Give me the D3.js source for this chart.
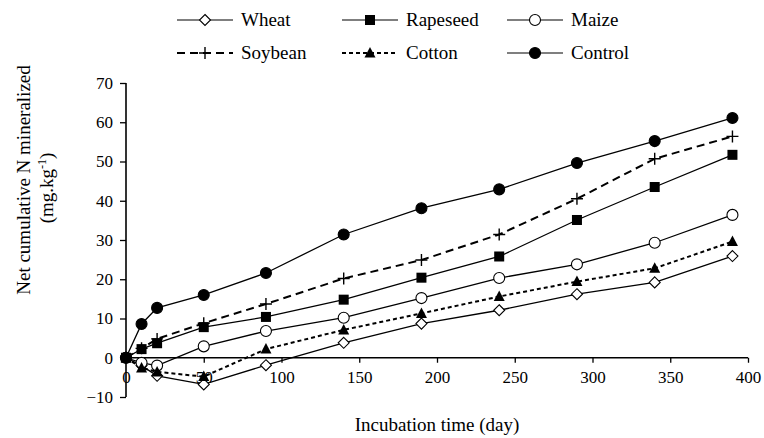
<!DOCTYPE html>
<html>
<head>
<meta charset="utf-8">
<script src="https://cdn.jsdelivr.net/npm/d3@7"></script>
<style>
  body { margin: 0; background: #fff; }
</style>
</head>
<body>
<svg id="chart" width="764" height="438"></svg>
<script>
var FONT = "Liberation Serif";

// incubation days
var days = [0, 10, 20, 50, 90, 140, 190, 240, 290, 340, 390];

// net cumulative N mineralized (mg.kg-1)
var wheat    = [0, -2.0, -4.6, -6.8, -1.9, 3.8, 8.7, 12.1, 16.2, 19.2, 25.9];
var rapeseed = [0, 2.2, 3.7, 7.8, 10.4, 14.8, 20.4, 25.8, 35.1, 43.5, 51.7];
var maize    = [0, -1.3, -2.0, 2.9, 6.8, 10.2, 15.2, 20.3, 23.8, 29.3, 36.4];
var soybean  = [0, 2.4, 4.8, 8.8, 13.7, 20.2, 24.9, 31.4, 40.5, 50.7, 56.4];
var cotton   = [0, -2.6, -3.6, -4.8, 2.2, 7.1, 11.3, 15.6, 19.4, 22.8, 29.6];
var control  = [0, 8.6, 12.7, 16.0, 21.6, 31.4, 38.1, 42.9, 49.6, 55.2, 61.1];

var xTicks = [0, 50, 100, 150, 200, 250, 300, 350, 400];
var yTicks = [-10, 0, 10, 20, 30, 40, 50, 60, 70];

var series = [
  {name: "Wheat",    values: wheat,    marker: "diamond",  dash: null},
  {name: "Rapeseed", values: rapeseed, marker: "square",   dash: null},
  {name: "Maize",    values: maize,    marker: "circleO",  dash: null},
  {name: "Soybean",  values: soybean,  marker: "plus",     dash: "8,5"},
  {name: "Cotton",   values: cotton,   marker: "triangle", dash: "4,3"},
  {name: "Control",  values: control,  marker: "circle",   dash: null}
];

var svg = d3.select("#chart");

var x = d3.scaleLinear().domain([0, 400]).range([126, 748]);
var y = d3.scaleLinear().domain([-10, 70]).range([397, 83]);

// x axis sits on the zero line
var xAxis = svg.append("g")
    .attr("transform", "translate(0," + y(0) + ")")
    .call(d3.axisBottom(x).tickValues(xTicks).tickSize(5).tickPadding(8).tickFormat(d3.format("d")));
xAxis.select(".domain").attr("stroke-width", 1.6).attr("d", "M" + x(0) + ",0H" + x(400));
xAxis.selectAll(".tick line").attr("stroke-width", 1.3);
xAxis.selectAll(".tick text").style("font-size", "17px").style("font-family", FONT);

var yAxis = svg.append("g")
    .attr("transform", "translate(" + x(0) + ",0)")
    .call(d3.axisLeft(y).tickValues(yTicks).tickSize(6).tickPadding(7));
yAxis.select(".domain").attr("stroke-width", 1.6).attr("d", "M0," + y(-10) + "V" + y(70));
yAxis.selectAll(".tick line").attr("stroke-width", 1.3);
yAxis.selectAll(".tick text").style("font-size", "17px").style("font-family", FONT);

var line = d3.line()
    .x(function(d) { return x(d[0]); })
    .y(function(d) { return y(d[1]); });

function drawMarker(g, type, cx, cy) {
  if (type === "circle" || type === "circleO") {
    g.append("circle").attr("cx", cx).attr("cy", cy).attr("r", 5.5)
      .attr("fill", type === "circle" ? "#000" : "#fff").attr("stroke", "#000").attr("stroke-width", 1.1);
  } else if (type === "square") {
    g.append("rect").attr("x", cx - 5).attr("y", cy - 5).attr("width", 10).attr("height", 10).attr("fill", "#000");
  } else if (type === "diamond") {
    g.append("path").attr("d", "M" + cx + "," + (cy - 5.5) + "L" + (cx + 5.5) + "," + cy + "L" + cx + "," + (cy + 5.5) + "L" + (cx - 5.5) + "," + cy + "Z")
      .attr("fill", "#fff").attr("stroke", "#000").attr("stroke-width", 1.1);
  } else if (type === "triangle") {
    g.append("path").attr("d", "M" + cx + "," + (cy - 6) + "L" + (cx + 5.5) + "," + (cy + 4.5) + "L" + (cx - 5.5) + "," + (cy + 4.5) + "Z")
      .attr("fill", "#000");
  } else if (type === "plus") {
    g.append("path").attr("d", "M" + (cx - 6) + "," + cy + "H" + (cx + 6) + "M" + cx + "," + (cy - 6) + "V" + (cy + 6))
      .attr("stroke", "#000").attr("stroke-width", 1.4);
  }
}

var plot = svg.append("g");
series.forEach(function(s) {
  var pts = days.map(function(d, i) { return [d, s.values[i]]; });
  plot.append("path")
    .datum(pts)
    .attr("d", line)
    .attr("fill", "none")
    .attr("stroke", "#000")
    .attr("stroke-width", s.dash ? 2 : 1.3)
    .attr("stroke-dasharray", s.dash);
});
series.forEach(function(s) {
  var g = plot.append("g");
  days.forEach(function(d, i) { drawMarker(g, s.marker, x(d), y(s.values[i])); });
});

// legend, two rows of three
var legX = [177, 342, 507], legY = [20, 53];
series.forEach(function(s, i) {
  var lx = legX[i % 3], ly = legY[Math.floor(i / 3)];
  var g = svg.append("g");
  g.append("line").attr("x1", lx).attr("x2", lx + 56).attr("y1", ly).attr("y2", ly)
    .attr("stroke", "#000").attr("stroke-width", s.dash ? 1.8 : 1.2).attr("stroke-dasharray", s.dash);
  drawMarker(g, s.marker, lx + 28, ly);
  g.append("text").attr("x", lx + 64).attr("y", ly + 6)
    .style("font-family", FONT).style("font-size", "19px").text(s.name);
});

// axis titles
svg.append("text").attr("x", (x(0) + x(400)) / 2).attr("y", 431)
  .attr("text-anchor", "middle").style("font-family", FONT).style("font-size", "19px")
  .text("Incubation time (day)");

svg.append("text").attr("transform", "translate(30,180) rotate(-90)")
  .attr("text-anchor", "middle").style("font-family", FONT).style("font-size", "19px")
  .text("Net cumulative N mineralized");
var yt2 = svg.append("text").attr("transform", "translate(53,188) rotate(-90)")
  .attr("text-anchor", "middle").style("font-family", FONT).style("font-size", "19px");
yt2.append("tspan").text("(mg.kg");
yt2.append("tspan").attr("dy", -7).style("font-size", "12px").text("-1");
yt2.append("tspan").attr("dy", 7).text(")");
</script>
</body>
</html>
